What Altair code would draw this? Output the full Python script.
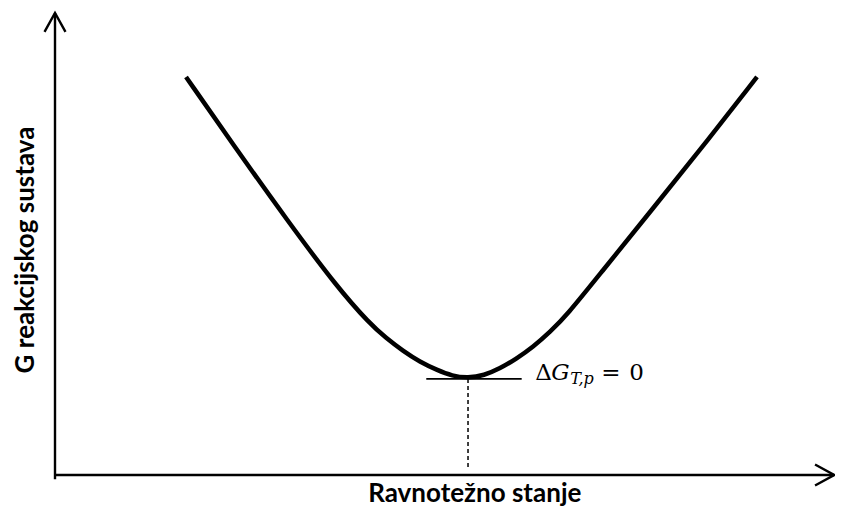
import altair as alt
import pandas as pd

# ---- data (arbitrary units: reaction progress 0..100, G 0..100)
progress = [16.48, 22.89, 29.18, 35.47, 39.62, 41.64, 43.77, 45.91, 48.05, 49.94, 51.95,
            53.96, 55.97, 57.99, 60.13, 62.26, 64.40, 68.55, 74.84, 81.13, 88.30]
gibbs = [86.15, 70.35, 55.19, 40.69, 32.68, 29.65, 26.84, 24.46, 22.73, 21.43, 21.00,
         21.54, 23.05, 25.11, 27.71, 30.95, 34.63, 43.51, 56.93, 70.35, 86.15]

eq_progress = 51.95         # equilibrium position
eq_gibbs = 20.8             # G at minimum (tangent level)
tangent_from = [46.7, 58.7]
dashed_bottom = 1.1

# axes with arrow heads (polyline id, x, y)
axis_id = ["xaxis", "xaxis", "yaxis", "yaxis",
           "yarrow", "yarrow", "yarrow",
           "xarrow", "xarrow", "xarrow"]
axis_x = [0, 98.0, 0, 0, -1.32, 0, 1.32, 95.6, 98.0, 95.6]
axis_y = [0, 0, -0.9, 100, 95.9, 100, 95.9, 2.27, 0, -2.27]

x_title = "Ravnotežno stanje"
y_title = "G reakcijskog sustava"
x_title_pos = (52.8, -5.85)
y_title_pos = (-2.64, 48.7)
label_pos = (60.4, 20.56)

# ---- tables
curve_df = pd.DataFrame({"x": progress, "y": gibbs, "o": list(range(len(progress)))})
axis_df = pd.DataFrame({"id": axis_id, "x": axis_x, "y": axis_y, "o": list(range(len(axis_x)))})
tangent_df = pd.DataFrame({"x": tangent_from, "y": [eq_gibbs, eq_gibbs]})
dashed_df = pd.DataFrame({"x": [eq_progress, eq_progress], "y": [eq_gibbs, dashed_bottom]})
xt_df = pd.DataFrame({"x": [x_title_pos[0]], "y": [x_title_pos[1]], "t": [x_title]})
yt_df = pd.DataFrame({"x": [y_title_pos[0]], "y": [y_title_pos[1]], "t": [y_title]})
lab_df = pd.DataFrame({"x": [label_pos[0]], "y": [label_pos[1]]})

xs = alt.Scale(domain=[-5.912, 98.11], nice=False, zero=False)
ys = alt.Scale(domain=[-6.926, 101.08], nice=False, zero=False)
X = lambda: alt.X("x:Q", scale=xs, axis=None)
Y = lambda: alt.Y("y:Q", scale=ys, axis=None)

axes = alt.Chart(axis_df).mark_line(color="black", strokeWidth=2.4, strokeCap="butt", strokeJoin="miter").encode(
    x=X(), y=Y(), detail="id:N", order="o:Q")

curve = alt.Chart(curve_df).mark_line(color="black", strokeWidth=4.5, interpolate="basis").encode(
    x=X(), y=Y(), order="o:Q")

tangent = alt.Chart(tangent_df).mark_line(color="black", strokeWidth=1.8).encode(x=X(), y=Y())

dashed = alt.Chart(dashed_df).mark_line(color="black", strokeWidth=1.5, strokeDash=[4, 3]).encode(
    x=X(), y=Y())

xt = alt.Chart(xt_df).mark_text(font="Lato", fontWeight="bold", fontSize=26, align="center",
                                baseline="alphabetic", color="black").encode(x=X(), y=Y(), text="t:N")
yt = alt.Chart(yt_df).mark_text(font="Lato", fontWeight="bold", fontSize=26, align="center",
                                baseline="alphabetic", angle=270, color="black").encode(x=X(), y=Y(), text="t:N")

serif = "DejaVu Serif"
base = alt.Chart(lab_df)
lab_parts = [
    base.mark_text(text="Δ", font=serif, fontSize=23, align="left", baseline="alphabetic", dx=0),
    base.mark_text(text="G", font=serif, fontSize=23, fontStyle="italic", align="left", baseline="alphabetic", dx=16),
    base.mark_text(text="T,p", font=serif, fontSize=16, fontStyle="italic", align="left", baseline="alphabetic", dx=35, dy=4),
    base.mark_text(text="=", font=serif, fontSize=23, align="left", baseline="alphabetic", dx=66),
    base.mark_text(text="0", font=serif, fontSize=23, align="left", baseline="alphabetic", dx=94),
]
lab_layers = [p.encode(x=X(), y=Y()) for p in lab_parts]

chart = alt.layer(axes, tangent, dashed, curve, xt, yt, *lab_layers).properties(
    width=827, height=499, padding=0, autosize=alt.AutoSizeParams(type="none"),
    background="white",
).configure_view(stroke=None)

chart.save("out.html", embed_options={"renderer": "svg", "actions": False})
